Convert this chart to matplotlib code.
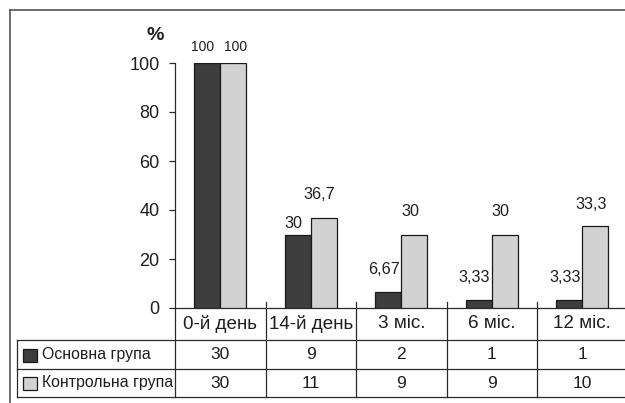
import numpy as np
import matplotlib
matplotlib.use('Agg')
import matplotlib.pyplot as plt
from matplotlib.lines import Line2D
from matplotlib.patches import Rectangle

plt.rcParams['font.family'] = ['Liberation Sans', 'DejaVu Sans']

periods = ['0-й день', '14-й день', '3 міс.', '6 міс.', '12 міс.']
groups = ['Основна група', 'Контрольна група']
pct_main = [100, 30, 6.67, 3.33, 3.33]
pct_ctrl = [100, 36.7, 30, 30, 33.3]
n_main = [30, 9, 2, 1, 1]
n_ctrl = [30, 11, 9, 9, 10]

dark = '#3e3e3e'
light = '#d2d2d2'
edge = '#1a1a1a'
line_c = '#2a2a2a'
txt = '#1e1e1e'

W, H = 625, 403
fig = plt.figure(figsize=(W / 100, H / 100), dpi=100)

def fx(x):
    return x / W

def fy(y):
    return 1 - y / H

# plot area in pixels: y-axis at x=175, zero line at y=308, 100 at y=63
ax = fig.add_axes([fx(175), fy(308), (627.5 - 175) / W, (308 - 63) / H])
x = np.arange(len(periods))
bw = 0.287
ax.bar(x - bw / 2, pct_main, bw, color=dark, edgecolor=edge, linewidth=0.9, zorder=3)
ax.bar(x + bw / 2, pct_ctrl, bw, color=light, edgecolor=edge, linewidth=0.9, zorder=3)

ax.set_xlim(-0.5, len(periods) - 0.5)
ax.set_ylim(0, 100)
ax.set_yticks(range(0, 101, 20))
ax.tick_params(axis='y', direction='out', length=4, width=0.9, color=line_c,
               pad=7, labelsize=13, labelcolor=txt)
ax.set_xticks([])
for s in ['top', 'right']:
    ax.spines[s].set_visible(False)
for s in ['left', 'bottom']:
    ax.spines[s].set_color(line_c)
    ax.spines[s].set_linewidth(0.9)

# value labels
def fmt(v):
    return ('%g' % v).replace('.', ',')

dx_main = [-3.5, -3, -3, -3, -3]
dx_ctrl = [1.5, -3, -3, -3, -3]
dy_main = [11.5, 8, 16, 16, 16]
dy_ctrl = [11.5, 17, 16.5, 16.5, 15.5]
for i in range(len(periods)):
    for xo, v, dx, dy in [(-bw / 2, pct_main[i], dx_main[i], dy_main[i]),
                          (bw / 2, pct_ctrl[i], dx_ctrl[i], dy_ctrl[i])]:
        ax.annotate(fmt(v), (i + xo, v), xytext=(dx, dy), textcoords='offset points',
                    ha='center', va='center', fontsize=10 if v == 100 else 11.6,
                    color=txt, annotation_clip=False)

fig.text(fx(155), fy(36), '%', ha='center', va='center', fontsize=14,
         fontweight='bold', color=txt)

# data table under the axis
tr = ax.get_xaxis_transform()
ppx = 1 / (308 - 63)
row_y = [-32 * ppx, -61 * ppx, -89 * ppx]   # bottoms of header row, row 1, row 2
for b in np.arange(0.5, len(periods), 1.0):
    ax.add_line(Line2D([b, b], [6 * ppx, row_y[-1]], transform=tr, color=line_c,
                       lw=0.9, clip_on=False))
ax.add_line(Line2D([-0.5, -0.5], [0, row_y[-1]], transform=tr, color=line_c,
                   lw=0.9, clip_on=False))
for yy in row_y:
    fig.add_artist(Line2D([fx(17), fx(640)], [fy(308) + yy * (245 / H)] * 2,
                          color=line_c, lw=0.9))
fig.add_artist(Line2D([fx(17), fx(17)], [fy(340), fy(397)], color=line_c, lw=0.9))

for i, p in enumerate(periods):
    ax.text(i, -16 * ppx, p, transform=tr, ha='center', va='center', fontsize=13.6,
            color=txt, clip_on=False)
    ax.text(i, -46.5 * ppx, str(n_main[i]), transform=tr, ha='center', va='center',
            fontsize=12.5, color=txt, clip_on=False)
    ax.text(i, -75 * ppx, str(n_ctrl[i]), transform=tr, ha='center', va='center',
            fontsize=12.5, color=txt, clip_on=False)

for ry, name, c in [(355, groups[0], dark), (383, groups[1], light)]:
    fig.add_artist(Rectangle((fx(23), fy(ry + 6.5)), 13.5 / W, 13 / H,
                             facecolor=c, edgecolor=edge, lw=0.9))
    fig.text(fx(41.5), fy(ry), name, ha='left', va='center', fontsize=11.4, color=txt)

# outer frame
fig.add_artist(Line2D([fx(10), fx(10)], [fy(9.5), fy(410)], color='#555555', lw=1.2))
fig.add_artist(Line2D([fx(10), fx(640)], [fy(9.5), fy(9.5)], color='#555555', lw=1.2))

fig.savefig('out.png', dpi=100)
